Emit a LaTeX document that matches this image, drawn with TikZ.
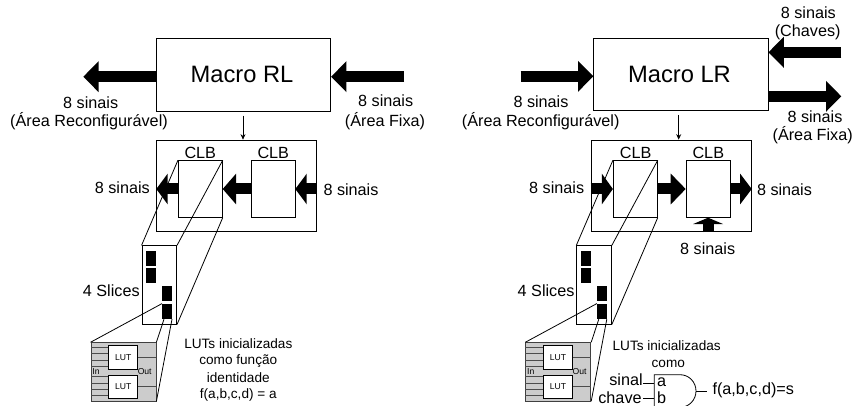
\documentclass[tikz,border=0pt]{standalone}
\usepackage{fontspec}
\setmainfont{Liberation Sans}
\usetikzlibrary{arrows.meta,calc}
\tikzset{
  box/.style={draw=black,fill=white,line width=0.8pt,rectangle,inner sep=0pt},
  lab/.style={inner sep=0pt,font=\fontsize{16.2}{18}\selectfont},
  title/.style={inner sep=0pt,font=\fontsize{23.7}{26}\selectfont},
  note/.style={inner sep=0pt,font=\fontsize{13.6}{15}\selectfont},
  tiny/.style={inner sep=0pt,font=\fontsize{8.6}{10}\selectfont},
  clbbox/.style={box,minimum width=44pt,minimum height=56.6pt},
  slice/.style={fill=black,rectangle,inner sep=0pt,minimum width=9.6pt,minimum height=15.2pt},
  lutbox/.style={box,minimum width=29pt,minimum height=23.2pt,font=\fontsize{8.6}{10}\selectfont},
  wire/.style={draw=black,line width=0.8pt},
  grayw/.style={draw=black!70,line width=0.8pt},
  fat/.style={line width=11pt,-{Triangle[length=#1,width=30pt]},black},
  fat/.default=15.3pt,
  thinarrow/.style={line width=0.8pt,-{Stealth[length=5.5pt,width=5pt]},black},
  pics/sliceblock/.style={code={
    \node[box,minimum width=34.7pt,minimum height=78.3pt] (front) at (159.3,284.9) {};
    \node[slice] (s1) at (151,258.6) {};
    \node[slice] (s2) at (151,275.8) {};
    \node[slice] (s3) at (167,293.7) {};
    \node[slice] (s4) at (167,311.4) {};
    \node[box,fill=black!20,draw=black!75,minimum width=65pt,minimum height=58.3pt] (blk) at (123.5,371.8) {};
    \node[lutbox] (lut1) at (123.2,357.5) {LUT};
    \node[lutbox] (lut2) at (123.2,386.6) {LUT};
    \foreach \k in {2.3,8.3,14.7,20.7} {
      \draw[grayw] ($(lut1.north west)+(0,\k)$) -- ++(-17.7,0);
      \draw[grayw] ($(lut2.north west)+(0,\k)$) -- ++(-17.7,0);
    }
    \draw[grayw] (lut1.east) -- (lut1.east -| blk.east);
    \draw[grayw] (lut2.east) -- (lut2.east -| blk.east);
    \node[tiny] (inl) at (96,372) {In};
    \node[tiny] (outl) at (144.7,372) {Out};
    \node[lab] (slc) at (111.3,291) {4 Slices};
    \draw[wire] (s4.north west) -- (blk.north west);
    \draw[wire] ($(s4.south west)+(2,0)$) -- (blk.north east);
    \draw[wire] (s4.south east) -- (blk.south east);
  }}
}
\begin{document}
\begin{tikzpicture}[x=1pt,y=-1pt]
\useasboundingbox (0,0) rectangle (855,406);
\clip (0,0) rectangle (855,406);
% ---------- Left: Macro RL
\node[box,minimum width=174pt,minimum height=72.7pt] (mrl) at (243.7,74.7) {};
\node[title] (mrlt) at (242,74.5) {Macro RL};
\coordinate (rlOutEnd) at (83.3,76.7);
\coordinate (rlInStart) at (404,76.7);
\draw[fat] (mrl.west |- rlOutEnd) -- (rlOutEnd);
\draw[fat] (rlInStart) -- (rlInStart -| mrl.east);
\node[lab] (rl8a) at (90.7,102.5) {8 sinais};
\node[lab] (rl8b) at (89,121.5) {(Área Reconfigurável)};
\node[lab] (rl8c) at (385.7,101) {8 sinais};
\node[lab] (rl8d) at (385,121.5) {(Área Fixa)};
\node[box,minimum width=160pt,minimum height=91.7pt] (rlo) at (236.7,185.9) {};
\draw[thinarrow] (243,115.7) coordinate (rlA) -- (rlA |- rlo.north);
\node[clbbox] (ca) at (200.3,189) {};
\node[clbbox] (cb) at (272.9,189) {};
\node[lab] (cat) at (200.3,153) {CLB};
\node[lab] (cbt) at (273.3,153) {CLB};
\draw[fat=11.3pt] (ca.west) -- (ca.west -| rlo.west);
\draw[fat=13.4pt] (cb.west) -- (ca.east);
\draw[fat=11.4pt] (cb.east -| rlo.east) -- (cb.east);
\node[lab] (rl8e) at (122.3,187.5) {8 sinais};
\node[lab] (rl8f) at (351,190) {8 sinais};
\pic (L) at (0,0) {sliceblock};
\draw[wire] (ca.north west) -- (Lfront.north west);
\draw[wire] (ca.north east) -- (Lfront.north east);
\draw[wire] (ca.south east) -- (Lfront.south east);
\node[note] (n1) at (238.3,344) {LUTs inicializadas};
\node[note] (n2) at (238.3,361.3) {como função};
\node[note] (n3) at (238.3,378) {identidade};
\node[note] (n4) at (238.3,395) {f(a,b,c,d) = a};
% ---------- Right: Macro LR
\node[box,minimum width=174.3pt,minimum height=72.4pt] (mlr) at (680.9,74.5) {};
\node[title] (mlrt) at (679.5,74.5) {Macro LR};
\coordinate (lrInStart) at (520.7,76.3);
\coordinate (lrChStart) at (841.3,52.3);
\coordinate (lrOutEnd) at (841.3,96.3);
\draw[fat] (lrInStart) -- (lrInStart -| mlr.west);
\draw[fat] (lrChStart) -- (lrChStart -| mlr.east);
\draw[fat] (lrOutEnd -| mlr.east) -- (lrOutEnd);
\node[lab] (lr8a) at (541,101.5) {8 sinais};
\node[lab] (lr8b) at (540.7,121.5) {(Área Reconfigurável)};
\node[lab] (lr8c) at (808.3,12.7) {8 sinais};
\node[lab] (lr8d) at (807.7,32.5) {(Chaves)};
\node[lab] (lr8e) at (815,117) {8 sinais};
\node[lab] (lr8f) at (812.7,135.5) {(Área Fixa)};
\node[box,minimum width=160.3pt,minimum height=91.7pt] (lro) at (671.2,185.9) {};
\draw[thinarrow] (678.7,115) coordinate (lrA) -- (lrA |- lro.north);
\node[clbbox] (cc) at (635.3,189) {};
\node[clbbox] (cd) at (708.1,189) {};
\node[lab] (cct) at (635.7,153) {CLB};
\node[lab] (cdt) at (708.3,153) {CLB};
\draw[fat=11pt] (cc.west -| lro.west) -- (cc.west);
\draw[fat=15pt] (cc.east) -- (cd.west);
\draw[fat=11.6pt] (cd.east) -- (cd.east -| lro.east);
\draw[fat=6.4pt] (lro.south -| cd.south) -- (cd.south);
\node[lab] (lr8g) at (556.7,187.5) {8 sinais};
\node[lab] (lr8h) at (784.5,190) {8 sinais};
\node[lab] (lr8i) at (707.7,248.7) {8 sinais};
\pic (R) at (434.8,0) {sliceblock};
\draw[wire] (cc.north west) -- (Rfront.north west);
\draw[wire] (cc.north east) -- (Rfront.north east);
\draw[wire] (cc.south east) -- (Rfront.south east);
\node[note] (n5) at (666.7,345.7) {LUTs inicializadas};
\node[note] (n6) at (668.3,364) {como};
% AND gate
\coordinate (g) at (654.3,374.7);
\coordinate (gtip) at (696,391);
\draw[wire] (654.3,407.3) -- (g) -- (680,374.7) .. controls (689,374.7) and (696,382) .. (gtip) .. controls (696,400) and (689,407.3) .. (680,407.3) -- (654.3,407.3);
\coordinate (gout) at (706.7,391);
\draw[wire] (gtip) -- (gout);
\coordinate (ga) at (654.3,383.3);
\coordinate (gb) at (654.3,398.3);
\coordinate (gai) at (643.3,383.3);
\coordinate (gbi) at (643.3,398.3);
\draw[wire] (gai) -- (ga);
\draw[wire] (gbi) -- (gb);
\node[lab] (ta) at (661.7,382) {a};
\node[lab] (tb) at (661.7,397.5) {b};
\node[lab] (ts) at (626,380) {sinal};
\node[lab] (tc) at (620,398) {chave};
\node[lab] (tf) at (753.3,390) {f(a,b,c,d)=s};
\end{tikzpicture}
\end{document}
